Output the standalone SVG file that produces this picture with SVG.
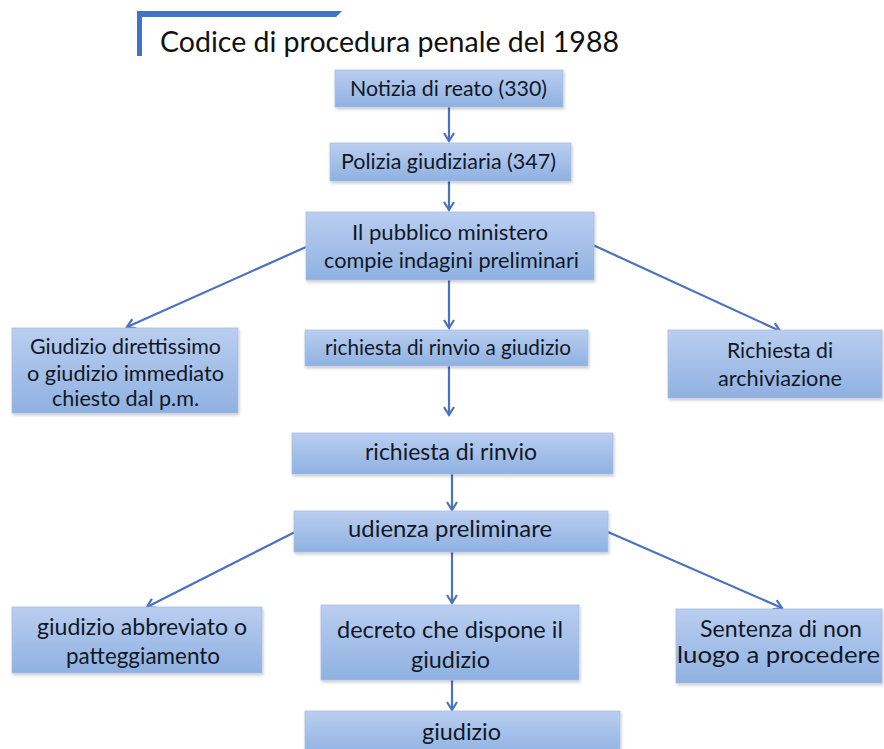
<svg xmlns="http://www.w3.org/2000/svg" width="884" height="749" viewBox="0 0 884 749">
<style>
.node rect{fill:url(#g);stroke:#a9bfe3;stroke-width:0.8;filter:url(#sh)}
.node text{font-family:Lato,"Open Sans",sans-serif;font-size:21.5px;fill:#101826;text-anchor:middle}
.node.big text{font-size:23.5px}
.con line{stroke:#4a72c0;stroke-width:2.2;marker-end:url(#ah)}
</style>
<defs>
<linearGradient id="g" x1="0" y1="0" x2="0" y2="1">
<stop offset="0" stop-color="#bacef0"/>
<stop offset="1" stop-color="#8fb1e1"/>
</linearGradient>
<filter id="sh" x="-5%" y="-10%" width="110%" height="130%">
<feDropShadow dx="1" dy="2" stdDeviation="1.5" flood-color="#000" flood-opacity="0.2"/>
</filter>
<marker id="ah" markerWidth="12" markerHeight="12" refX="9" refY="6" orient="auto" markerUnits="userSpaceOnUse">
<path d="M1,1 L9,6 L1,11" fill="none" stroke="#4a72c0" stroke-width="2.2"/>
</marker>
</defs>
<rect width="884" height="749" fill="#fff"/>
<g id="header">
<path d="M137,56 L137,11 L342,11 L336,17 L142,17 L142,56 Z" fill="#4472c4"/>
<text x="160" y="52" font-family="Lato,'Open Sans',sans-serif" font-size="28.5" fill="#111" textLength="459" lengthAdjust="spacingAndGlyphs">Codice di procedura penale del 1988</text>
</g>
<g class="con" id="connectors">
<line x1="449" y1="107" x2="449" y2="141"/>
<line x1="449" y1="181" x2="449" y2="210"/>
<line x1="306" y1="247" x2="127" y2="327"/>
<line x1="449" y1="280" x2="449" y2="328"/>
<line x1="593" y1="245" x2="780" y2="331"/>
<line x1="449" y1="366" x2="449" y2="415"/>
<line x1="452" y1="474" x2="452" y2="510"/>
<line x1="295" y1="532" x2="147" y2="607"/>
<line x1="452" y1="552" x2="452" y2="603"/>
<line x1="608" y1="532" x2="782" y2="608"/>
<line x1="452" y1="680" x2="452" y2="710"/>
</g>
<g class="node" id="n1"><rect x="335" y="70" width="228" height="37"/><text x="448.5" y="96" textLength="197" lengthAdjust="spacingAndGlyphs">Notizia di reato (330)</text></g>
<g class="node" id="n2"><rect x="330" y="143" width="241" height="38"/><text x="448.5" y="169" textLength="215" lengthAdjust="spacingAndGlyphs">Polizia giudiziaria (347)</text></g>
<g class="node" id="n3"><rect x="306" y="212" width="288" height="68"/><text x="450" y="240" textLength="196" lengthAdjust="spacingAndGlyphs">Il pubblico ministero</text><text x="451.5" y="268" textLength="255" lengthAdjust="spacingAndGlyphs">compie indagini preliminari</text></g>
<g class="node" id="n4"><rect x="12" y="328" width="226" height="85"/><text x="125.5" y="354" textLength="191" lengthAdjust="spacingAndGlyphs">Giudizio direttissimo</text><text x="125.5" y="381" textLength="197" lengthAdjust="spacingAndGlyphs">o giudizio immediato</text><text x="125.5" y="406" textLength="147" lengthAdjust="spacingAndGlyphs">chiesto dal p.m.</text></g>
<g class="node" id="n5"><rect x="305" y="330" width="283" height="36"/><text x="448" y="355" textLength="246" lengthAdjust="spacingAndGlyphs">richiesta di rinvio a giudizio</text></g>
<g class="node" id="n6"><rect x="668" y="330" width="214" height="68"/><text x="780" y="358" textLength="106" lengthAdjust="spacingAndGlyphs">Richiesta di</text><text x="780" y="386" textLength="124" lengthAdjust="spacingAndGlyphs">archiviazione</text></g>
<g class="node big" id="n7"><rect x="292" y="433" width="321" height="41"/><text x="451" y="460" textLength="172" lengthAdjust="spacingAndGlyphs">richiesta di rinvio</text></g>
<g class="node big" id="n8"><rect x="294" y="511" width="314" height="41"/><text x="450" y="537" textLength="204" lengthAdjust="spacingAndGlyphs">udienza preliminare</text></g>
<g class="node big" id="n9"><rect x="12" y="607" width="250" height="66"/><text x="142" y="635" textLength="210" lengthAdjust="spacingAndGlyphs">giudizio abbreviato o</text><text x="143" y="664" textLength="154" lengthAdjust="spacingAndGlyphs">patteggiamento</text></g>
<g class="node big" id="n10"><rect x="321" y="605" width="258" height="75"/><text x="450" y="638" textLength="226" lengthAdjust="spacingAndGlyphs">decreto che dispone il</text><text x="450.5" y="668" textLength="79" lengthAdjust="spacingAndGlyphs">giudizio</text></g>
<g class="node big" id="n11"><rect x="676" y="609" width="206" height="74"/><text x="781" y="637" textLength="162" lengthAdjust="spacingAndGlyphs">Sentenza di non</text><text x="778.5" y="663" textLength="203" lengthAdjust="spacingAndGlyphs">luogo a procedere</text></g>
<g class="node big" id="n12"><rect x="305" y="711" width="315" height="45"/><text x="461.5" y="740" textLength="79" lengthAdjust="spacingAndGlyphs">giudizio</text></g>
</svg>
